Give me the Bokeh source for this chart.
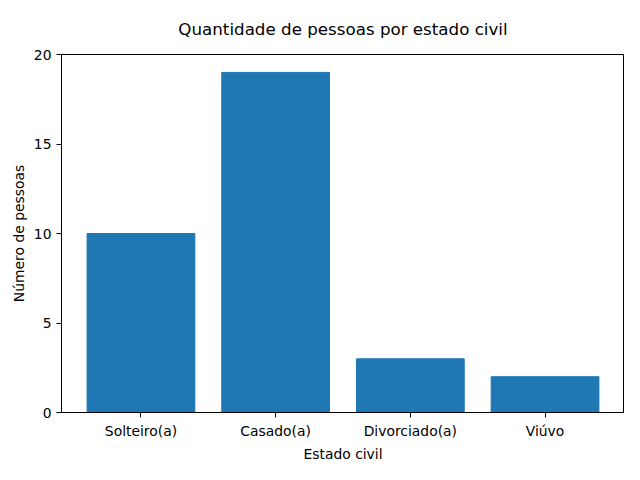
from bokeh.plotting import figure
from bokeh.models import Range1d, FixedTicker
from bokeh.embed import file_html
from bokeh.resources import INLINE

categorias = ["Solteiro(a)", "Casado(a)", "Divorciado(a)", "Viúvo"]
pessoas = [10, 19, 3, 2]
y_ticks = [0, 5, 10, 15, 20]

FONT = "DejaVu Sans"
xs = list(range(len(categorias)))

p = figure(width=624, height=464, output_backend="svg", toolbar_location=None, tools="",
           x_range=Range1d(-0.59, 3.59), y_range=Range1d(0, 20),
           min_border_left=61, min_border_right=0, min_border_bottom=30, min_border_top=10)

p.title.text = "Quantidade de pessoas por estado civil"
p.title.align = "center"
p.title.offset = -12
p.title.text_font = FONT
p.title.text_font_size = "16.7px"
p.title.text_font_style = "normal"
p.title.text_color = "black"
p.title.standoff = 32

p.vbar(x=xs, top=pessoas, width=0.8, color="#1f77b4")

p.xaxis.ticker = FixedTicker(ticks=xs)
p.xaxis.major_label_overrides = {i: c for i, c in enumerate(categorias)}
p.yaxis.ticker = FixedTicker(ticks=y_ticks)
p.xaxis.axis_label = "Estado civil"
p.yaxis.axis_label = "Número de pessoas"

for ax in (p.xaxis[0], p.yaxis[0]):
    ax.axis_label_text_font = FONT
    ax.axis_label_text_font_size = "13.9px"
    ax.axis_label_text_font_style = "normal"
    ax.axis_label_text_color = "black"
    ax.axis_label_standoff = 4
    ax.major_label_text_font = FONT
    ax.major_label_text_font_size = "13.9px"
    ax.major_label_text_color = "black"
    ax.major_tick_out = 5
    ax.major_tick_in = 0
    ax.minor_tick_out = 0
    ax.minor_tick_in = 0
    ax.axis_line_color = "black"
    ax.major_tick_line_color = "black"

p.grid.visible = False
p.outline_line_color = "black"
p.outline_line_alpha = 1

open("out.html", "w").write(file_html(p, INLINE))
